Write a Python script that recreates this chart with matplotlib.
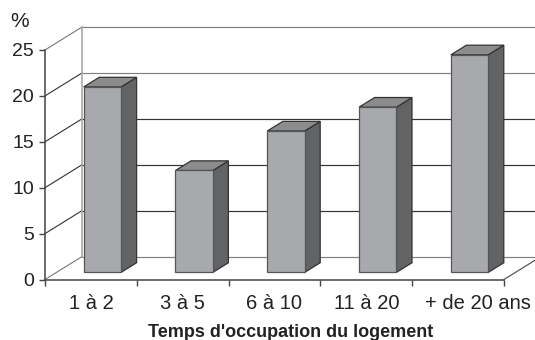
import matplotlib
matplotlib.use("Agg")
import matplotlib.pyplot as plt
from matplotlib.patches import Polygon
from matplotlib.transforms import ScaledTranslation

categories = ["1 à 2", "3 à 5", "6 à 10", "11 à 20", "+ de 20 ans"]
values = [20.2, 11.1, 15.4, 18.0, 23.7]
y_ticks = [0, 5, 10, 15, 20, 25]

# 3d look: how far the back wall is shifted from the front axes (data units)
DEPTH_X = 0.403
DEPTH_Y = 2.5
BAR_WIDTH = 0.407
BAR_FRONT = 0.31
BAR_BACK = 0.73

FRONT_COLOR = "#a8a9ac"
SIDE_COLOR = "#626365"
TOP_COLOR = "#8b8c8e"
EDGE_COLOR = "#333333"

plt.rcParams["font.family"] = ["Liberation Sans", "DejaVu Sans"]


def project(x, v, d):
    return (x + d * DEPTH_X, v + d * DEPTH_Y)


W, H = 535, 340
fig = plt.figure(figsize=(W / 100, H / 100), dpi=100)
ax = fig.add_axes([45 / W, 60.5 / H, 459 / W, 229.5 / H])
n = len(categories)
ax.set_xlim(0, n)
ax.set_ylim(0, 25)

# back wall grid and side wall lines
for v in y_ticks:
    grid_color = "#333333" if v in (5, 10, 15) else "#808080"
    x0, y0 = project(0, v, 1)
    x1, y1 = project(n, v, 1)
    ax.plot([x0, x1], [y0, y1], color=grid_color, lw=0.85, clip_on=False, zorder=1)
    ax.plot([0, x0], [v, y0], color="#333333" if v not in (0, 25) else "#777777", lw=0.8, clip_on=False, zorder=1)

x0, y0 = project(0, 0, 1)
x1, y1 = project(0, 25, 1)
ax.plot([x0, x1], [y0, y1], color="#aaaaaa", lw=1.2, clip_on=False, zorder=1)
x1, y1 = project(n, 0, 1)
ax.plot([n, x1], [0, y1], color="#444444", lw=0.8, clip_on=False, zorder=1)

# bars
for i, val in enumerate(values):
    left = i + 0.5 - BAR_WIDTH / 2
    right = i + 0.5 + BAR_WIDTH / 2
    front = [project(left, 0, BAR_FRONT), project(right, 0, BAR_FRONT),
             project(right, val, BAR_FRONT), project(left, val, BAR_FRONT)]
    side = [project(right, 0, BAR_FRONT), project(right, 0, BAR_BACK),
            project(right, val, BAR_BACK), project(right, val, BAR_FRONT)]
    top = [project(left, val, BAR_FRONT), project(right, val, BAR_FRONT),
           project(right, val, BAR_BACK), project(left, val, BAR_BACK)]
    ax.add_patch(Polygon(side, closed=True, fc=SIDE_COLOR, ec=EDGE_COLOR, lw=0.9, clip_on=False, zorder=3))
    ax.add_patch(Polygon(top, closed=True, fc=TOP_COLOR, ec=EDGE_COLOR, lw=0.9, clip_on=False, zorder=3))
    ax.add_patch(Polygon(front, closed=True, fc=FRONT_COLOR, ec="#555555", lw=0.9, clip_on=False, zorder=4))

ax.patch.set_visible(False)
for s in ("top", "right"):
    ax.spines[s].set_visible(False)
for s in ("left", "bottom"):
    ax.spines[s].set_color("#444444")
    ax.spines[s].set_linewidth(1.1)

ax.set_yticks(y_ticks)
ax.set_xticks(range(n + 1))
ax.set_xticklabels([])
ax.set_xticks([i + 0.5 for i in range(n)], categories, minor=True)
ax.tick_params(axis="y", labelsize=14, length=4, width=1.0, color="#444444", pad=4, labelcolor="#222222")
ax.tick_params(axis="x", which="major", length=4, width=1.0, color="#444444")
ax.tick_params(axis="x", which="minor", length=0, labelsize=14.5, pad=10.5, labelcolor="#222222")

# the long last label sits to the right of its slot
last = ax.get_xticklabels(minor=True)[-1]
last.set_transform(last.get_transform() + ScaledTranslation(0.20, 0, fig.dpi_scale_trans))

ax.set_xlabel("Temps d'occupation du logement", fontsize=13, fontweight="bold", color="#222222")
ax.xaxis.set_label_coords(0.535, -0.196)
ax.text(-0.28, 28.1, "%", fontsize=15, color="#222222", ha="center", va="center", clip_on=False)

fig.savefig("out.png", dpi=100)
